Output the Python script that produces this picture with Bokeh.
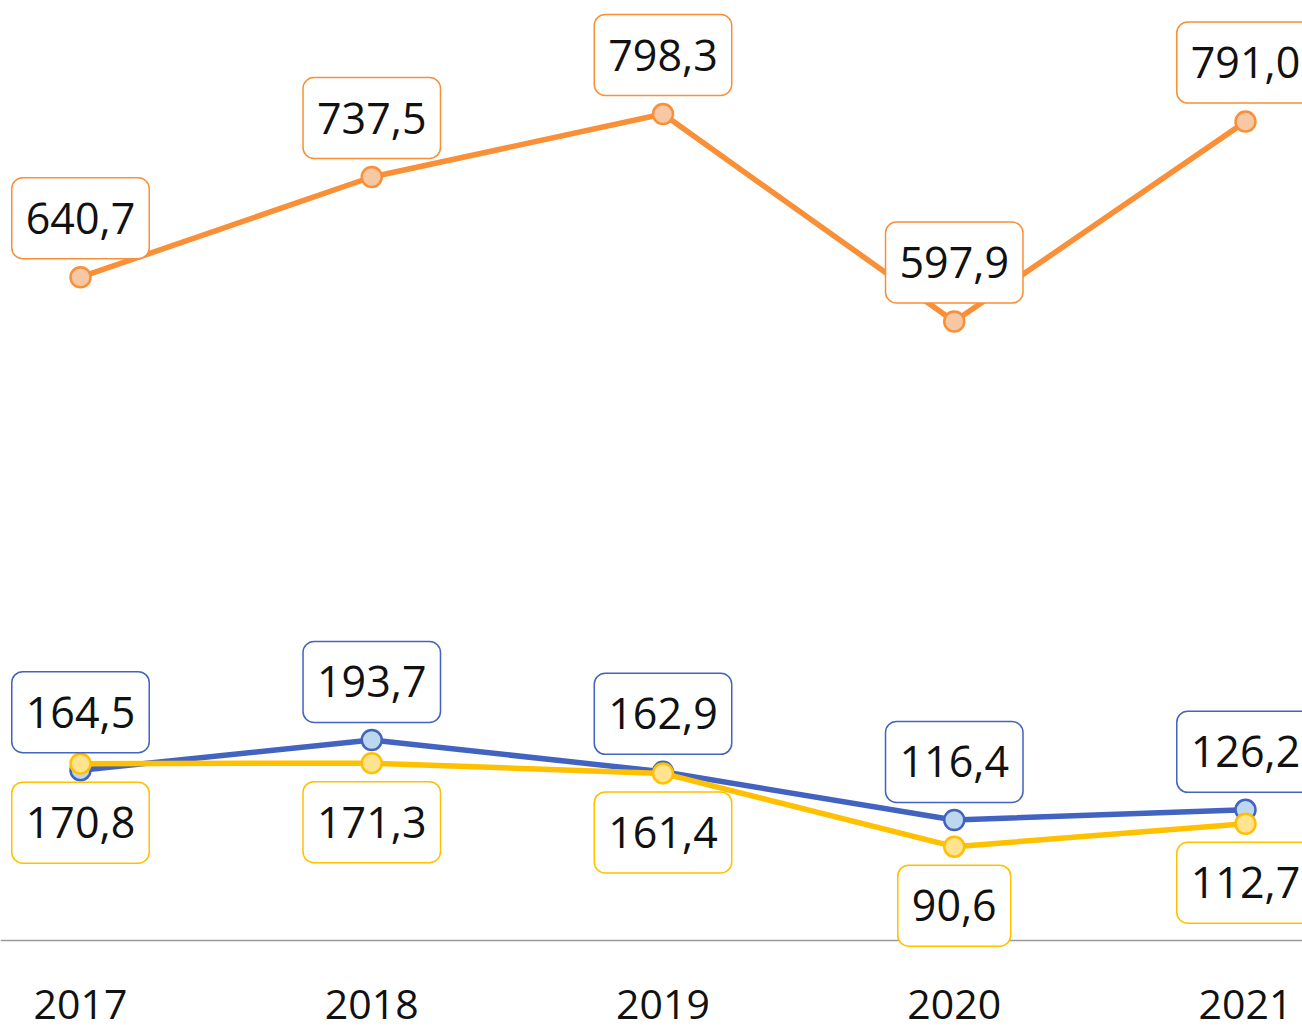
from bokeh.plotting import figure
from bokeh.models import ColumnDataSource, Label, Range1d, Span
from bokeh.core.properties import value
from bokeh.embed import file_html
from bokeh.resources import INLINE

years = [2017, 2018, 2019, 2020, 2021]
year_labels = ["2017", "2018", "2019", "2020", "2021"]
orange_vals = [640.7, 737.5, 798.3, 597.9, 791.0]
blue_vals = [164.5, 193.7, 162.9, 116.4, 126.2]
yellow_vals = [170.8, 171.3, 161.4, 90.6, 112.7]

def fmt(v):
    return f"{v:.1f}".replace(".", ",")

FONT = "Open Sans"

p = figure(frame_width=1302, frame_height=1032, output_backend="svg", toolbar_location=None,
           x_range=Range1d(2016.7253, 2021.1957), y_range=Range1d(-88.9, 908),
           x_axis_location=None, y_axis_location=None,
           min_border_left=0, min_border_right=0, min_border_top=0, min_border_bottom=0)
p.outline_line_color = None
p.xgrid.visible = False
p.ygrid.visible = False
p.background_fill_color = "white"
p.border_fill_color = "white"

# baseline (category axis line)
p.add_layout(Span(location=0, dimension="width", line_color="#9a9a9a", line_width=1.5))

# category labels under the baseline
ysrc = ColumnDataSource(dict(x=years, y=[0] * len(years), t=year_labels))
p.text("x", "y", text="t", source=ysrc, y_offset=64,
       text_align="center", text_baseline="middle",
       text_font=value(FONT), text_font_size="41px", text_color="#111111")

series = [
    (orange_vals, "#F98F36", "#F8C7A3", 59),
    (blue_vals, "#4263C0", "#BDD7EE", 58),
    (yellow_vals, "#FFC000", "#FFE38F", -59),
]

for vals, line_c, fill_c, off in series:
    src = ColumnDataSource(dict(x=years, y=vals))
    p.line("x", "y", source=src, line_color=line_c, line_width=5.5)
    p.scatter("x", "y", source=src, size=20, fill_color=fill_c,
              line_color=line_c, line_width=2.5)

for vals, line_c, fill_c, off in series:
    for xv, yv in zip(years, vals):
        lab = Label(x=xv, y=yv, text=fmt(yv), y_offset=off,
                    text_align="center", text_baseline="middle",
                    text_font=FONT, text_font_size="43px", text_color="#111111",
                    background_fill_color="white", background_fill_alpha=1.0,
                    border_line_color=line_c, border_line_width=1.5,
                    padding=dict(left=14, right=14, top=25, bottom=25),
                    border_radius=11)
        p.add_layout(lab)

open("out.html", "w").write(file_html(p, INLINE))
